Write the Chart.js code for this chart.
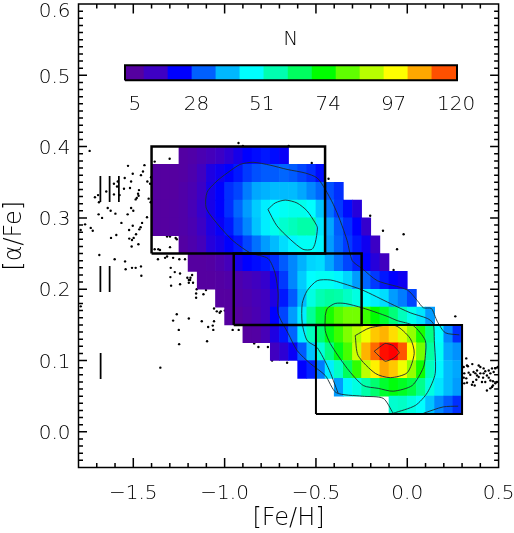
<!DOCTYPE html>
<html>
<head>
<meta charset="utf-8">
<title>[alpha/Fe] vs [Fe/H]</title>
<script src="https://cdn.jsdelivr.net/npm/chart.js@4"></script>
<style>
  html, body { margin: 0; padding: 0; background: #fff; }
  canvas { display: block; }
</style>
</head>
<body>
<canvas id="abundanceChart" width="514" height="533"></canvas>
<script>
// star counts per 0.05 x 0.025 dex cell, one array per [alpha/Fe] row
const rowLow = [0.375, 0.35, 0.325, 0.3, 0.275, 0.25, 0.225, 0.2, 0.175, 0.15, 0.125, 0.1, 0.075, 0.05, 0.025];
const rowStart = [-1.25, -1.4, -1.4, -1.4, -1.4, -1.25, -1.2, -1.15, -1.05, -1.0, -0.9, -0.75, -0.6, -0.4, -0.1];
const n375 = [9, 10, 12, 14, 16, 18, 21, 24, 25, 26, 25, 23];
const n350 = [7, 7, 8, 9, 11, 15, 20, 22, 24, 26, 29, 31, 32, 32, 33, 32, 30, 28, 25];
const n325 = [7, 8, 8, 10, 12, 16, 21, 24, 28, 30, 35, 39, 40, 41, 41, 41, 39, 36, 33, 31, 28];
const n300 = [7, 8, 9, 10, 13, 17, 21, 24, 28, 33, 38, 43, 47, 49, 50, 51, 51, 49, 42, 34, 29, 25, 19];
const n275 = [7, 8, 9, 10, 12, 16, 20, 23, 26, 31, 36, 42, 47, 51, 54, 56, 58, 58, 46, 39, 32, 28, 24, 17];
const n250 = [9, 11, 14, 19, 21, 24, 26, 30, 34, 38, 41, 45, 48, 50, 50, 48, 38, 33, 29, 26, 22, 16];
const n225 = [7, 8, 9, 11, 14, 21, 24, 25, 26, 28, 32, 36, 40, 44, 45, 39, 34, 30, 27, 24, 19, 15];
const n200 = [7, 8, 9, 10, 11, 13, 15, 17, 22, 29, 36, 43, 49, 50, 50, 48, 44, 38, 33, 29, 26, 24, 22];
const n175 = [7, 8, 10, 11, 13, 15, 20, 26, 32, 41, 52, 57, 59, 58, 55, 52, 49, 47, 45, 38, 35, 30];
const n150 = [7, 8, 10, 12, 15, 24, 30, 38, 47, 60, 69, 76, 81, 84, 84, 79, 74, 70, 63, 56, 51, 46, 38];
const n125 = [8, 9, 13, 20, 26, 33, 47, 56, 64, 72, 79, 85, 90, 97, 104, 106, 102, 95, 87, 76, 62, 49, 36, 28];
const n100 = [15, 18, 23, 32, 42, 53, 62, 72, 80, 93, 106, 113, 120, 122, 115, 99, 84, 59, 50, 39, 37];
const n075 = [24, 27, 35, 47, 55, 66, 78, 91, 100, 107, 104, 97, 87, 75, 56, 48, 41, 39];
const n050 = [38, 48, 52, 58, 64, 70, 73, 71, 68, 61, 52, 46, 41, 38];
const n025 = [54, 55, 52, 49, 42, 36, 32, 28];
const rowCounts = [n375, n350, n325, n300, n275, n250, n225, n200, n175, n150, n125, n100, n075, n050, n025];

// colour bar
const levelN = [8.3, 15.8, 24, 32.4, 40.6, 49, 57.3, 65.6, 74, 82.2, 90.5, 98.8, 107, 115.4, 121];
const levelRgb = [
  [85, 0, 160], [62, 0, 196], [0, 0, 255], [0, 96, 255], [0, 184, 255], [0, 255, 255], [0, 255, 176],
  [0, 255, 96], [0, 255, 0], [96, 255, 0], [184, 255, 0], [255, 255, 0], [255, 168, 0], [255, 80, 0], [255, 0, 0]
];
const barEdges = [5, 11.6, 19.9, 28.2, 36.5, 44.8, 53.1, 61.5, 69.8, 78.1, 86.4, 94.7, 103, 111.3, 120];
const barTicks = [5, 28, 51, 74, 97, 120];

// field stars, [Fe/H], [alpha/Fe]
const dotsUpperLeft = [
  [-1.739, .394], [-1.301, .383], [-1.383, .379], [-1.529, .373], [-1.439, .374], [-1.503, .362], [-1.447, .365],
  [-1.458, .360], [-1.403, .357], [-1.547, .356], [-1.585, .351], [-1.606, .348], [-1.512, .351], [-1.589, .344],
  [-1.551, .341], [-1.518, .342], [-1.423, .351], [-1.408, .348], [-1.648, .337], [-1.469, .339], [-1.474, .334],
  [-1.471, .331], [-1.606, .333], [-1.575, .332], [-1.693, .332], [-1.710, .329], [-1.688, .322], [-1.481, .328],
  [-1.487, .326], [-1.416, .327], [-1.405, .322], [-1.640, .314], [-1.624, .310], [-1.512, .314], [-1.500, .310],
  [-1.598, .306], [-1.531, .305], [-1.690, .305], [-1.671, .300], [-1.425, .301], [-1.565, .293], [-1.452, .293],
  [-1.764, .291], [-1.733, .286], [-1.503, .289], [-1.523, .283], [-1.460, .287], [-1.467, .284], [-1.722, .282],
  [-1.788, .283], [-1.485, .277], [-1.498, .272], [-1.522, .271], [-1.507, .269], [-1.593, .276], [-1.622, .272],
  [-1.472, .263], [-1.509, .260], [-1.686, .248], [-1.602, .242], [-1.383, .256], [-1.363, .256], [-1.354, .255],
  [-1.299, .259], [-1.315, .274], [-1.299, .274], [-1.268, .272], [-1.262, .270], [-1.365, .242], [-1.326, .244],
  [-1.315, .246], [-1.282, .244], [-1.248, .242], [-1.217, .242], [-0.924, .405], [-0.900, .401], [-0.649, .401],
  [-0.523, .377], [-0.431, .355]
];
const dotsLowerLeft = [
  [-1.545, .239], [-1.507, .230], [-1.487, .230], [-1.458, .232], [-1.542, .228], [-1.456, .219], [-1.295, .230],
  [-1.273, .224], [-1.244, .222], [-1.178, .220], [-1.204, .216], [-1.187, .216], [-1.196, .213], [-1.189, .213],
  [-1.196, .209], [-1.173, .209], [-1.297, .217], [-1.293, .205], [-1.244, .207], [-1.153, .200], [-1.102, .199],
  [-1.156, .194], [-1.116, .193], [-1.156, .188], [-1.788, .176], [-1.058, .173], [-1.043, .169], [-1.021, .169],
  [-1.027, .167], [-0.999, .170], [-1.262, .165], [-1.282, .156], [-1.196, .159], [-1.125, .155], [-1.058, .155],
  [-1.065, .149], [-1.090, .147], [-1.062, .143], [-1.251, .143], [-0.956, .143], [-0.923, .143], [-1.096, .127],
  [-1.249, .123], [-1.352, .090], [-0.815, .119], [-0.763, .119], [-0.838, .124], [-0.740, .100], [-0.658, .097]
];
const dotsRight = [
  [.323, .103], [.309, .091], [.327, .093], [.332, .092], [.356, .095], [.391, .093], [.400, .091], [.418, .089],
  [.382, .086], [.363, .084], [.336, .083], [.312, .082], [.309, .076], [.323, .075], [.345, .080], [.373, .082],
  [.400, .082], [.427, .085], [.446, .086], [.464, .089], [.482, .089], [.495, .091], [.473, .084], [.455, .082],
  [.436, .079], [.415, .076], [.391, .077], [.378, .073], [.360, .070], [.354, .066], [.369, .065], [.312, .068],
  [.327, .069], [.409, .070], [.427, .070], [.455, .072], [.469, .071], [.491, .070], [.482, .068], [.436, .058],
  [.455, .061], [.464, .063], [.469, .065], [.418, .082], [.382, .079], [.446, .076], [.263, .162], [-.203, .303],
  [-.133, .282], [-.020, .277], [-.056, .256], [-.075, .227]
];

// density contours
const contourOuter = [
  [.285, .136], [.208, .139], [.164, .155], [.132, .173], [.088, .174], [.055, .184], [0, .199], [-.164, .212],
  [-.247, .229], [-.301, .240], [-.329, .268], [-.367, .296], [-.405, .319], [-.449, .340], [-.493, .356],
  [-.559, .363], [-.658, .368], [-.751, .374], [-.844, .378], [-.915, .375], [-.986, .363], [-1.041, .352],
  [-1.096, .336], [-1.101, .314], [-1.041, .292], [-.954, .268], [-.860, .251], [-.762, .243], [-.723, .222],
  [-.707, .194], [-.707, .166], [-.652, .138], [-.603, .114], [-.532, .096], [-.449, .079], [-.389, .055],
  [-.247, .050], [-.132, .047], [-.077, .026]
];
const contourCorner = [[.088, .026], [.197, .035], [.279, .036]];
const contourSecond = [
  [-.077, .026], [.044, .037], [.110, .055], [.153, .082], [.148, .128], [.142, .152], [.110, .159], [.016, .167],
  [-.093, .180], [-.247, .199], [-.351, .208], [-.422, .213], [-.493, .212], [-.548, .198], [-.575, .180],
  [-.575, .152], [-.548, .128], [-.493, .118], [-.433, .090], [-.378, .054]
];
const contourThird = [
  [-.449, .163], [-.438, .173], [-.395, .180], [-.340, .180], [-.247, .174], [-.164, .167], [-.110, .162],
  [-.055, .156], [.033, .149], [.099, .128], [.099, .107], [.088, .090], [.027, .065], [-.077, .057], [-.159, .061],
  [-.241, .065], [-.329, .089], [-.422, .124], [-.449, .142], [-.449, .163]
];
const contourFourth = [
  [-.285, .135], [-.203, .146], [-.066, .149], [.016, .131], [.038, .110], [0, .083], [-.093, .076], [-.175, .082],
  [-.269, .107], [-.285, .135]
];
const contourPeak = [
  [-.181, .113], [-.121, .124], [-.077, .121], [-.044, .111], [-.077, .103], [-.121, .099], [-.181, .113]
];
const contourUpper = [
  [-.763, .312], [-.723, .321], [-.668, .325], [-.604, .321], [-.549, .310], [-.504, .293], [-.492, .286],
  [-.504, .265], [-.522, .256], [-.571, .256], [-.641, .270], [-.714, .289], [-.763, .312]
];

// selection boxes
const boxThick = [[-1.4, .25], [-1.4, .4], [-.45, .4], [-.45, .25], [-1.4, .25]];
const boxMiddle = [[-.95, .15], [-.95, .25], [-.25, .25], [-.25, .15], [-.95, .15]];
const boxThin = [[-.5, .025], [-.5, .15], [.3, .15], [.3, .025], [-.5, .025]];

const FONT = '"DejaVu Sans"';
const CONTOUR = '#1c2a30';

function colorFor(n) {
  if (n <= levelN[0]) return `rgb(${levelRgb[0].join(',')})`;
  for (let i = 1; i < levelN.length; i++) {
    if (n <= levelN[i]) {
      const t = (n - levelN[i - 1]) / (levelN[i] - levelN[i - 1]);
      const c = levelRgb[i].map((v, k) => Math.round(levelRgb[i - 1][k] + (v - levelRgb[i - 1][k]) * t));
      return `rgb(${c.join(',')})`;
    }
  }
  return 'rgb(255,0,0)';
}

const cells = [];
const cellColors = [];
rowCounts.forEach((counts, r) => {
  counts.forEach((n, c) => {
    const left = rowStart[r] + c * 0.05;
    cells.push({ x: left + 0.025, y: [rowLow[r], rowLow[r] + 0.025] });
    cellColors.push(colorFor(n));
  });
});

const barCells = barEdges.slice(1).map((hi, i) => ({ y: 0.5035, x: [barEdges[i], hi] }));
const barColors = barCells.map((_, i) => `rgb(${levelRgb[i].join(',')})`);
const barFrame = [[5, 0.493], [5, 0.514], [120, 0.514], [120, 0.493], [5, 0.493]];

function lineSet(data, width, order, extra) {
  return Object.assign({
    type: 'scatter',
    data,
    showLine: true,
    borderColor: '#000',
    borderWidth: width,
    pointRadius: 0,
    tension: 0,
    order
  }, extra || {});
}

function contourSet(data, tension) {
  return lineSet(data, 0.9, 3, { tension, borderColor: CONTOUR });
}

// inward ticks on all four sides plus the closed frame
const frameTicks = {
  id: 'frameTicks',
  afterDatasetsDraw(chart) {
    const { ctx, chartArea: a, scales: { x, y } } = chart;
    ctx.save();
    ctx.strokeStyle = '#000';
    ctx.lineWidth = 1.5;
    ctx.beginPath();
    for (let i = 0; i <= 23; i++) {
      const px = x.getPixelForValue(-1.8 + i * 0.1);
      const len = i % 5 === 3 ? 9.5 : 4.5;
      ctx.moveTo(px, a.bottom); ctx.lineTo(px, a.bottom - len);
      ctx.moveTo(px, a.top); ctx.lineTo(px, a.top + len);
    }
    for (let i = 0; i <= 65; i++) {
      const py = y.getPixelForValue(-0.05 + i * 0.01);
      const len = i % 10 === 5 ? 8.5 : 4.5;
      ctx.moveTo(a.left, py); ctx.lineTo(a.left + len, py);
      ctx.moveTo(a.right, py); ctx.lineTo(a.right - len, py);
    }
    ctx.rect(a.left, a.top, a.right - a.left, a.bottom - a.top);
    ctx.stroke();
    ctx.restore();
  }
};

// colour bar labels, the N title and the roman numerals
const textLabels = {
  id: 'textLabels',
  afterDraw(chart) {
    const { ctx, scales: { x, y, xN } } = chart;
    ctx.save();
    ctx.fillStyle = '#000';
    ctx.textAlign = 'center';
    ctx.textBaseline = 'middle';
    ctx.font = `200 20px ${FONT}`;
    const nudge = [10, 5, 4, 4, 3, -1];
    barTicks.forEach((t, i) => {
      ctx.fillText(String(t), xN.getPixelForValue(t) + nudge[i], y.getPixelForValue(0.4585));
    });
    ctx.fillText('N', x.getPixelForValue(-0.638), y.getPixelForValue(0.550));
    ctx.font = `200 35px ${FONT}`;
    ctx.letterSpacing = '-1px';
    ctx.fillText('III', x.getPixelForValue(-1.632), y.getPixelForValue(0.3345));
    ctx.fillText('II', x.getPixelForValue(-1.657), y.getPixelForValue(0.209));
    ctx.fillText('I', x.getPixelForValue(-1.682), y.getPixelForValue(0.087));
    ctx.restore();
  }
};

new Chart(document.getElementById('abundanceChart'), {
  type: 'scatter',
  data: {
    datasets: [
      lineSet(boxThick, 2.5, 1),
      lineSet(boxMiddle, 2.5, 1),
      lineSet(boxThin, 2, 1),
      lineSet(barFrame, 2, 1, { xAxisID: 'xN' }),
      {
        type: 'bar', indexAxis: 'y', xAxisID: 'xN', yAxisID: 'y', data: barCells, backgroundColor: barColors,
        barThickness: 15, grouped: false, borderWidth: 0, order: 2
      },
      contourSet(contourOuter, 0.25),
      contourSet(contourCorner, 0.25),
      contourSet(contourSecond, 0.25),
      contourSet(contourThird, 0.25),
      contourSet(contourFourth, 0.25),
      contourSet(contourPeak, 0.15),
      contourSet(contourUpper, 0.25),
      {
        type: 'bar', data: cells, backgroundColor: cellColors, barThickness: 9.125, grouped: false,
        borderWidth: 0, order: 4
      },
      ...[dotsUpperLeft, dotsLowerLeft, dotsRight].map(data => ({
        type: 'scatter', data, pointRadius: 1.2, pointBorderWidth: 0, pointBackgroundColor: '#000', order: 5
      }))
    ]
  },
  options: {
    responsive: false,
    animation: false,
    layout: { padding: { top: 2, right: 15.4, left: 0, bottom: 0 } },
    plugins: { legend: { display: false }, tooltip: { enabled: false } },
    scales: {
      x: {
        type: 'linear',
        offset: false,
        min: -1.8,
        max: 0.5,
        grid: { display: false, drawTicks: false },
        border: { display: false },
        ticks: {
          stepSize: 0.5,
          includeBounds: false,
          autoSkip: false,
          maxRotation: 0,
          padding: 14,
          color: '#000',
          font: { family: FONT, size: 20, weight: '200' },
          callback: v => v.toFixed(1).replace('-', '\u2212')
        },
        title: {
          display: true, text: '[Fe/H]', color: '#000', padding: { top: 0, bottom: 0 },
          font: { family: FONT, size: 24, weight: '200' }
        },
        afterFit(s) { s.height = 65.5; s.paddingLeft = 0; s.paddingRight = 0; }
      },
      y: {
        type: 'linear',
        offset: false,
        min: -0.05,
        max: 0.6,
        grid: { display: false, drawTicks: false },
        border: { display: false },
        ticks: {
          stepSize: 0.1,
          includeBounds: false,
          autoSkip: false,
          padding: 8,
          color: '#000',
          // blank lines above the label push it down: 2px, and 8px for the top one so it stays in the window
          font: { family: FONT, size: 20, weight: '200', lineHeight: 0.1 },
          callback: v => Array(Math.abs(v - 0.6) < 1e-6 ? 8 : 2).fill('').concat(v.toFixed(1))
        },
        title: {
          display: true, text: '[\u03b1/Fe]', color: '#000', padding: { top: 0, bottom: 0 },
          font: { family: FONT, size: 24, weight: '200' }
        },
        afterFit(s) { s.width = 78.5; s.paddingTop = 0; s.paddingBottom = 0; }
      },
      // N axis of the colour bar, spans the plot width so 5..120 lands on the bar
      xN: {
        type: 'linear',
        display: false,
        offset: false,
        position: 'bottom',
        min: -11.1,
        max: 134.4
      }
    }
  },
  plugins: [frameTicks, textLabels]
});
</script>
</body>
</html>
